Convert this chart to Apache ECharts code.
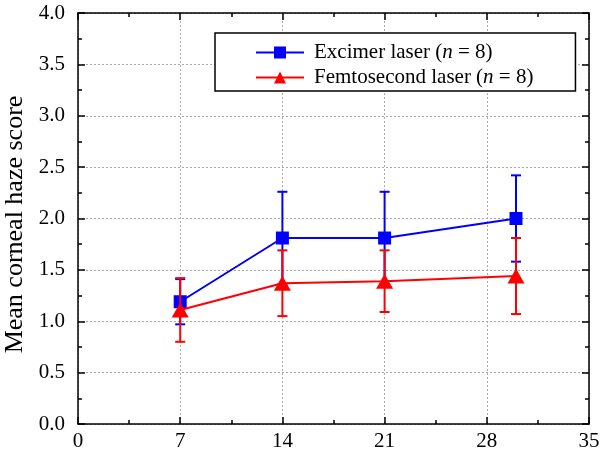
<!DOCTYPE html>
<html>
<head>
<meta charset="utf-8">
<script src="https://cdn.jsdelivr.net/npm/echarts@6/dist/echarts.min.js"></script>
<style>
  html, body { margin: 0; padding: 0; background: #fff; }
  #chart { width: 602px; height: 459px; }
</style>
</head>
<body>
<div id="chart"></div>
<script>
// days after surgery
var days = [7, 14, 21, 30];
// mean haze scores
var excimerMean = [1.19, 1.81, 1.81, 2.00];
var excimerErr = [0.22, 0.45, 0.45, 0.42];
var femtoMean = [1.11, 1.37, 1.39, 1.44];
var femtoErr = [0.31, 0.32, 0.30, 0.37];

var FONT = 'Liberation Serif';

function errRows(mean, err) {
  return days.map(function (d, i) { return [d, mean[i] - err[i], mean[i] + err[i]]; });
}

function errorItem(color) {
  return function (params, api) {
    var x = api.value(0);
    var top = api.coord([x, api.value(2)]);
    var bot = api.coord([x, api.value(1)]);
    var w = 5;
    var st = { stroke: color, lineWidth: 2 };
    return {
      type: 'group',
      children: [
        { type: 'line', shape: { x1: top[0], y1: top[1], x2: bot[0], y2: bot[1] }, style: st },
        { type: 'line', shape: { x1: top[0] - w, y1: top[1], x2: top[0] + w, y2: top[1] }, style: st },
        { type: 'line', shape: { x1: bot[0] - w, y1: bot[1], x2: bot[0] + w, y2: bot[1] }, style: st }
      ]
    };
  };
}

var chart = echarts.init(document.getElementById('chart'));

var axisLine = { show: true, onZero: false, lineStyle: { color: '#000', width: 1.5 } };
var tick = { show: true, inside: true, length: 7, lineStyle: { color: '#000', width: 1.5 } };
var minor = { show: true, splitNumber: 2, length: 4, lineStyle: { color: '#000', width: 1.5 } };
var grid = { show: true, lineStyle: { color: '#aaa', width: 1, type: [2, 2] } };

var option = {
  animation: false,
  grid: { left: 78, right: 13, top: 13, bottom: 35, outerBoundsMode: 'none' },
  legend: {
    left: 215,
    top: 33,
    orient: 'vertical',
    backgroundColor: '#fff',
    borderColor: '#000',
    borderWidth: 1.5,
    borderRadius: 0,
    padding: [9, 42, 3, 40],
    itemGap: 4,
    itemWidth: 48,
    itemHeight: 15,
    data: ['Excimer', 'Femtosecond'],
    formatter: function (name) {
      var t = name === 'Excimer' ? 'Excimer laser (' : 'Femtosecond laser (';
      return '{r|' + t + '}{i|n}{e| = 8)}';
    },
    textStyle: {
      rich: {
        r: { fontFamily: FONT, fontSize: 21, color: '#000', padding: [0, 0, 0, 5] },
        i: { fontFamily: FONT, fontSize: 21, fontStyle: 'italic', color: '#000' },
        e: { fontFamily: FONT, fontSize: 21, color: '#000' }
      }
    }
  },
  xAxis: [{
    type: 'value', min: 0, max: 35, interval: 7,
    axisLine: axisLine, axisTick: tick, minorTick: minor,
    splitLine: grid,
    axisLabel: { fontFamily: FONT, fontSize: 21, color: '#000', margin: 7 }
  }, {
    type: 'value', min: 0, max: 35, interval: 7, position: 'top',
    axisLine: axisLine, axisTick: tick, minorTick: minor,
    splitLine: { show: false }, axisLabel: { show: false }
  }],
  yAxis: [{
    type: 'value', min: 0, max: 4, interval: 0.5,
    name: 'Mean corneal haze score',
    nameLocation: 'middle',
    nameGap: 44,
    nameTextStyle: { fontFamily: FONT, fontSize: 26, color: '#000', padding: [0, 12, 0, 0] },
    axisLine: axisLine, axisTick: tick, minorTick: minor,
    splitLine: grid,
    axisLabel: {
      fontFamily: FONT, fontSize: 21, color: '#000', margin: 13,
      formatter: function (v) { return v.toFixed(1); }
    }
  }, {
    type: 'value', min: 0, max: 4, interval: 0.5, position: 'right',
    axisLine: axisLine, axisTick: tick, minorTick: minor,
    splitLine: { show: false }, axisLabel: { show: false }
  }],
  series: [{
    name: 'ExcimerErr',
    type: 'custom',
    renderItem: errorItem('#0000ff'),
    data: errRows(excimerMean, excimerErr),
    encode: { x: 0, y: [1, 2] },
    z: 2
  }, {
    name: 'Excimer',
    type: 'line',
    data: days.map(function (d, i) { return [d, excimerMean[i]]; }),
    symbol: 'rect',
    symbolSize: 13,
    itemStyle: { color: '#0000ff' },
    lineStyle: { color: '#0000ff', width: 2 },
    z: 3
  }, {
    name: 'FemtoErr',
    type: 'custom',
    renderItem: errorItem('#ff0000'),
    data: errRows(femtoMean, femtoErr),
    encode: { x: 0, y: [1, 2] },
    z: 4
  }, {
    name: 'Femtosecond',
    type: 'line',
    data: days.map(function (d, i) { return [d, femtoMean[i]]; }),
    symbol: 'triangle',
    symbolSize: [17, 15],
    itemStyle: { color: '#ff0000' },
    lineStyle: { color: '#ff0000', width: 2 },
    z: 5
  }]
};

chart.setOption(option);
</script>
</body>
</html>
